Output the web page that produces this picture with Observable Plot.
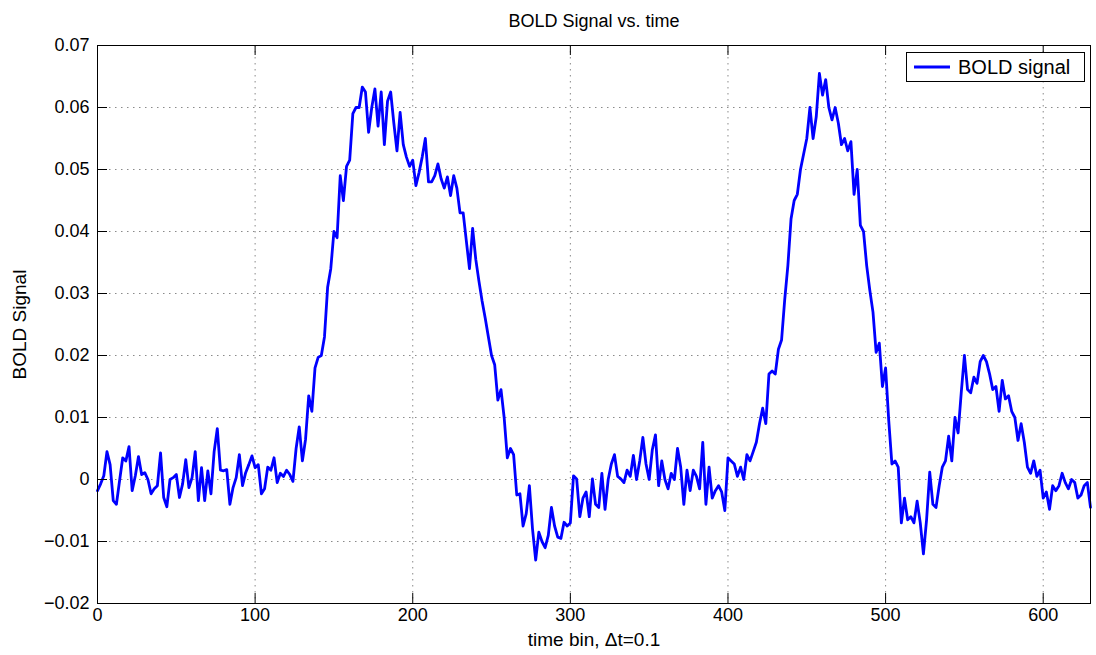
<!DOCTYPE html>
<html>
<head>
<meta charset="utf-8">
<script src="https://cdn.jsdelivr.net/npm/d3@7"></script>
<script src="https://cdn.jsdelivr.net/npm/@observablehq/plot@0.6"></script>
<style>
  body { margin: 0; background: #fff; }
  #chart { position: relative; width: 1096px; height: 655px; font-family: "Liberation Sans", Arial, sans-serif; }
  #legend { position: absolute; left: 906px; top: 52px; width: 177px; height: 28px; border: 1px solid #000; background: #fff;
            display: flex; align-items: center; font-size: 20px; color: #000; white-space: nowrap; }
  #legend svg { margin: 0 8px 0 7px; flex: none; }
</style>
</head>
<body>
<div id="chart"></div>
<script>
// BOLD signal, one value every second time bin (bins 0, 2, 4, ... 630)
const binStep = 2;
const boldSignal = [
  -0.0018, -0.0007, 0.0006, 0.0045, 0.0024, -0.0034, -0.0040, -0.0002, 0.0035, 0.0030,
  0.0053, -0.0018, 0.0006, 0.0037, 0.0008, 0.0011, 0.0000, -0.0023, -0.0015, -0.0010,
  0.0043, -0.0029, -0.0044, 0.0000, 0.0003, 0.0008, -0.0029, -0.0007, 0.0032, -0.0013,
  0.0003, 0.0045, -0.0034, 0.0019, -0.0034, 0.0014, -0.0023, 0.0045, 0.0082, 0.0015,
  0.0014, 0.0016, -0.0040, -0.0013, 0.0003, 0.0040, -0.0010, 0.0011, 0.0024, 0.0038,
  0.0019, 0.0024, -0.0023, -0.0015, 0.0020, 0.0015, 0.0035, -0.0005, 0.0010, 0.0005,
  0.0015, 0.0008, -0.0003, 0.0050, 0.0085, 0.0030, 0.0065, 0.0135, 0.0110, 0.0180,
  0.0197, 0.0200, 0.0230, 0.0310, 0.0340, 0.0400, 0.0390, 0.0490, 0.0450, 0.0505,
  0.0515, 0.0590, 0.0600, 0.0600, 0.0633, 0.0625, 0.0560, 0.0600, 0.0630, 0.0570,
  0.0625, 0.0540, 0.0610, 0.0625, 0.0575, 0.0530, 0.0592, 0.0540, 0.0520, 0.0505,
  0.0515, 0.0474, 0.0495, 0.0520, 0.0550, 0.0480, 0.0480, 0.0490, 0.0509, 0.0485,
  0.0470, 0.0488, 0.0458, 0.0490, 0.0470, 0.0430, 0.0430, 0.0385, 0.0340, 0.0405,
  0.0355, 0.0320, 0.0288, 0.0260, 0.0230, 0.0200, 0.0185, 0.0128, 0.0145, 0.0100,
  0.0035, 0.0050, 0.0040, -0.0025, -0.0023, -0.0075, -0.0055, -0.0010, -0.0080, -0.0130,
  -0.0085, -0.0100, -0.0110, -0.0090, -0.0045, -0.0075, -0.0093, -0.0095, -0.0069, -0.0075,
  -0.0070, 0.0006, 0.0001, -0.0060, -0.0030, -0.0020, -0.0060, 0.0001, -0.0040, -0.0045,
  0.0010, -0.0048, 0.0000, 0.0025, 0.0040, 0.0005, 0.0001, -0.0005, 0.0015, 0.0005,
  0.0039, 0.0000, 0.0030, 0.0068, 0.0025, 0.0000, 0.0048, 0.0072, -0.0010, 0.0030,
  0.0000, -0.0015, 0.0010, 0.0000, 0.0050, 0.0020, -0.0040, 0.0015, -0.0018, 0.0015,
  0.0005, -0.0015, 0.0060, -0.0040, 0.0020, -0.0030, -0.0018, -0.0010, -0.0020, -0.0050,
  0.0035, 0.0030, 0.0025, 0.0005, 0.0020, 0.0000, 0.0040, 0.0030, 0.0045, 0.0060,
  0.0090, 0.0115, 0.0090, 0.0170, 0.0175, 0.0170, 0.0210, 0.0225, 0.0290, 0.0345,
  0.0420, 0.0450, 0.0460, 0.0500, 0.0525, 0.0550, 0.0600, 0.0550, 0.0585, 0.0655,
  0.0620, 0.0645, 0.0600, 0.0580, 0.0600, 0.0575, 0.0540, 0.0550, 0.0530, 0.0545,
  0.0460, 0.0500, 0.0410, 0.0400, 0.0345, 0.0305, 0.0270, 0.0205, 0.0220, 0.0150,
  0.0180, 0.0095, 0.0025, 0.0030, 0.0020, -0.0070, -0.0030, -0.0065, -0.0060, -0.0070,
  -0.0035, -0.0070, -0.0120, -0.0065, 0.0012, -0.0040, -0.0045, -0.0010, 0.0020, 0.0030,
  0.0070, 0.0030, 0.0100, 0.0075, 0.0140, 0.0200, 0.0145, 0.0140, 0.0165, 0.0155,
  0.0190, 0.0200, 0.0190, 0.0170, 0.0145, 0.0150, 0.0110, 0.0160, 0.0130, 0.0135,
  0.0110, 0.0100, 0.0063, 0.0090, 0.0060, 0.0020, 0.0010, 0.0030, 0.0005, 0.0015,
  -0.0030, -0.0020, -0.0048, -0.0010, -0.0018, -0.0010, 0.0010, -0.0005, -0.0015, 0.0000,
  -0.0005, -0.0030, -0.0025, -0.0010, -0.0005, -0.0045
];

const xTicks = [0, 100, 200, 300, 400, 500, 600];
const yTicks = [-0.02, -0.01, 0, 0.01, 0.02, 0.03, 0.04, 0.05, 0.06, 0.07];
const xDomain = [0, 630];
const yDomain = [-0.02, 0.07];

const titleText = "BOLD Signal vs. time";
const xLabel = "time bin, \u0394t=0.1";
const yLabel = "BOLD Signal";
const seriesName = "BOLD signal";
const lineColor = "#0000ff";

const W = 1096, H = 655;
const mL = 97, mR = 6, mT = 45, mB = 52;
const innerW = W - mL - mR, innerH = H - mT - mB;
const tickLen = 10;

const series = boldSignal.map((v, i) => ({t: i * binStep, v}));
const fmtY = d => d === 0 ? "0" : (d < 0 ? "\u2212" : "") + Math.abs(d).toFixed(2);
const gridStyle = {stroke: "#8a8a8a", strokeOpacity: 1, strokeWidth: 1, strokeDasharray: "1.5,4.5"};

const chart = Plot.plot({
  width: W, height: H,
  marginLeft: mL, marginRight: mR, marginTop: mT, marginBottom: mB,
  style: {background: "#fff", color: "#000", fontFamily: "Liberation Sans, Arial, sans-serif", fontSize: "18px"},
  x: {domain: xDomain},
  y: {domain: yDomain},
  marks: [
    Plot.gridX(xTicks, gridStyle),
    Plot.gridY(yTicks, gridStyle),
    Plot.line(series, {x: "t", y: "v", stroke: lineColor, strokeWidth: 2.8}),
    Plot.frame({stroke: "#000", strokeWidth: 1}),
    // inward ticks on all four sides
    Plot.tickX(xTicks, {x: d => d, insetTop: innerH - tickLen, stroke: "#000"}),
    Plot.tickX(xTicks, {x: d => d, insetBottom: innerH - tickLen, stroke: "#000"}),
    Plot.tickY(yTicks, {y: d => d, insetRight: innerW - tickLen, stroke: "#000"}),
    Plot.tickY(yTicks, {y: d => d, insetLeft: innerW - tickLen, stroke: "#000"}),
    Plot.axisX(xTicks, {tickSize: 0, tickPadding: 5, label: null, fontSize: 18}),
    Plot.axisY(yTicks, {tickSize: 0, tickPadding: 8, tickFormat: fmtY, label: null, fontSize: 18}),
    Plot.text([titleText], {frameAnchor: "top", textAnchor: "middle", dy: -31, fontSize: 18}),
    Plot.text([xLabel], {frameAnchor: "bottom", textAnchor: "middle", dy: 42, fontSize: 19}),
    Plot.text([yLabel], {frameAnchor: "left", textAnchor: "middle", dx: -78, rotate: -90, fontSize: 19})
  ]
});

const root = document.getElementById("chart");
root.appendChild(chart);

// legend box in the upper right corner
const legend = document.createElement("div");
legend.id = "legend";
legend.innerHTML = `<svg width="36" height="10"><line x1="0" x2="36" y1="5" y2="5" stroke="${lineColor}" stroke-width="2.8"/></svg><span>${seriesName}</span>`;
root.appendChild(legend);
</script>
</body>
</html>
